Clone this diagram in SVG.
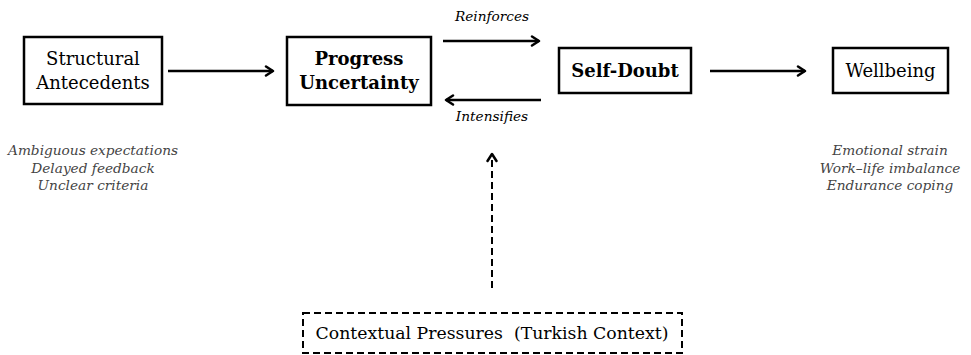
<svg xmlns="http://www.w3.org/2000/svg" width="971" height="355" viewBox="0 0 971 355">
<style>
.box{fill:#fff;stroke:#000;stroke-width:2.5}
.dbox{fill:#fff;stroke:#000;stroke-width:2;stroke-dasharray:7,4}
.t{font-family:"DejaVu Serif","Liberation Serif",serif;font-size:18px;fill:#000;text-anchor:middle}
.b{font-weight:bold}
.ann{font-family:"DejaVu Serif","Liberation Serif",serif;font-size:13.7px;font-style:italic;fill:#444;text-anchor:middle}
.lab{font-family:"DejaVu Serif","Liberation Serif",serif;font-size:13.7px;font-style:italic;fill:#000;text-anchor:middle}
.c{fill:none;stroke:#000;stroke-width:2.5;marker-end:url(#ah)}
.cd{fill:none;stroke:#000;stroke-width:2;stroke-dasharray:7,4;marker-end:url(#ah)}
</style>
<defs>
<marker id="ah" viewBox="0 0 12 12" refX="10" refY="6" markerWidth="12" markerHeight="12" markerUnits="userSpaceOnUse" orient="auto">
<polyline points="3,1.5 10,6 3,10.5" fill="none" stroke="#000" stroke-width="2.5" stroke-linecap="round" stroke-linejoin="round"/>
</marker>
</defs>
<rect width="971" height="355" fill="#fff"/>
<g id="connectors">
<line class="c" x1="168" y1="71" x2="273" y2="71"/>
<line class="c" x1="443" y1="41" x2="539" y2="41"/>
<line class="c" x1="541" y1="100" x2="446" y2="100"/>
<line class="c" x1="710" y1="71" x2="805" y2="71"/>
<line class="cd" x1="492" y1="288" x2="492" y2="154"/>
<text class="lab" x="492" y="21">Reinforces</text>
<text class="lab" x="492" y="121">Intensifies</text>
</g>
<g id="structural">
<rect class="box" x="24" y="37" width="138" height="67"/>
<text class="t" x="93" y="65">Structural</text>
<text class="t" x="93" y="89">Antecedents</text>
<text class="ann" x="93" y="155">Ambiguous expectations</text>
<text class="ann" x="93" y="173">Delayed feedback</text>
<text class="ann" x="93" y="190">Unclear criteria</text>
</g>
<g id="progress">
<rect class="box" x="287" y="37" width="144" height="68"/>
<text class="t b" x="359" y="65">Progress</text>
<text class="t b" x="359" y="89">Uncertainty</text>
</g>
<g id="selfdoubt">
<rect class="box" x="559" y="48" width="132" height="45"/>
<text class="t b" x="625" y="77">Self-Doubt</text>
</g>
<g id="wellbeing">
<rect class="box" x="833" y="48" width="115" height="45"/>
<text class="t" x="890.5" y="77">Wellbeing</text>
<text class="ann" x="890" y="155">Emotional strain</text>
<text class="ann" x="890" y="173">Work–life imbalance</text>
<text class="ann" x="890" y="190">Endurance coping</text>
</g>
<g id="contextual">
<rect class="dbox" x="303" y="313" width="379" height="40"/>
<text class="t" x="492" y="339" style="font-size:17.3px;white-space:pre" xml:space="preserve">Contextual Pressures  (Turkish Context)</text>
</g>
</svg>
